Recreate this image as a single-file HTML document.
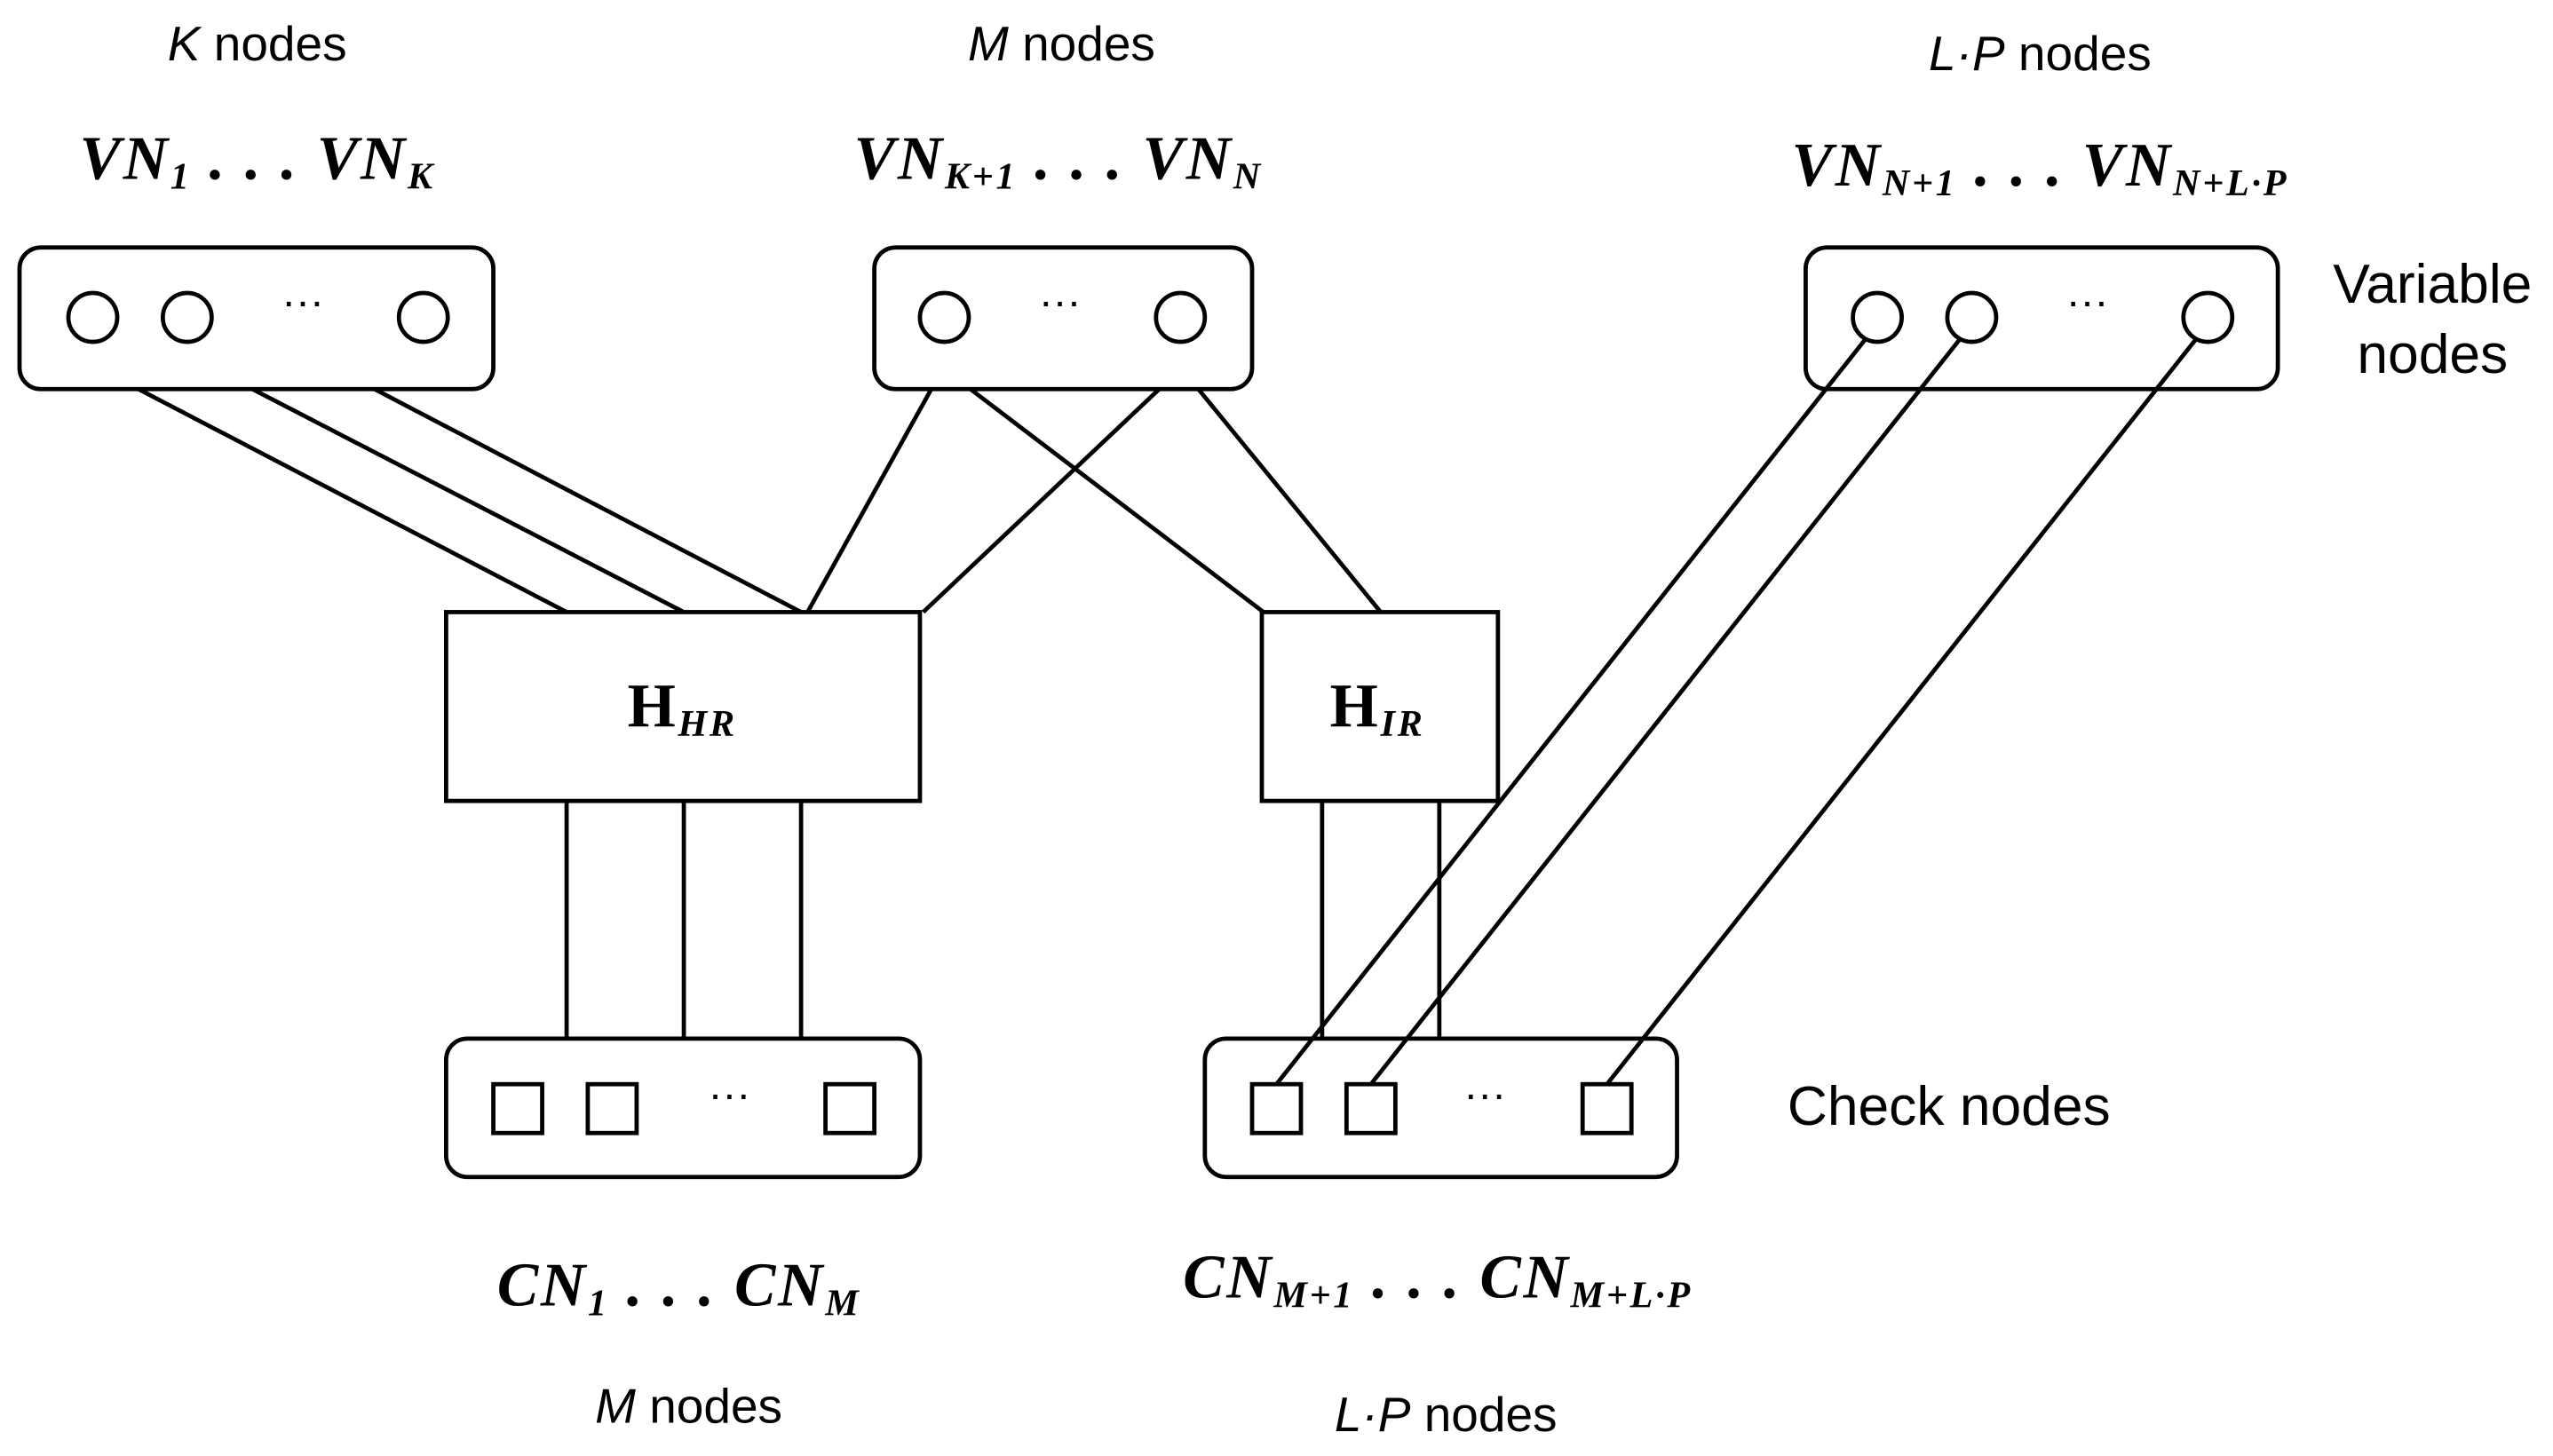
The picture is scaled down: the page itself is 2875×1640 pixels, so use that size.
<!DOCTYPE html>
<html><head><meta charset="utf-8"><style>
html,body{margin:0;padding:0;background:#fff;}
svg{display:block}
.s{font-family:"Liberation Sans",sans-serif;font-size:30px;fill:#000}
.m{font-family:"Liberation Serif",serif;font-style:italic;font-size:38px;fill:#000;font-weight:bold;letter-spacing:1.5px}
.sub{font-size:23px}
</style></head><body>
<svg width="2875" height="1640" viewBox="0 0 1568 894.4" preserveAspectRatio="none" xmlns="http://www.w3.org/2000/svg">
<g fill="none" stroke="#000" stroke-width="2.6">
<rect x="12" y="152" width="291" height="87" rx="13"/>
<rect x="537" y="152" width="232" height="87" rx="13"/>
<rect x="1109" y="152" width="290" height="87" rx="13"/>
<rect x="274" y="376" width="291" height="116"/>
<rect x="775" y="376" width="145" height="116"/>
<rect x="274" y="638" width="291" height="85" rx="13"/>
<rect x="740" y="638" width="290" height="85" rx="13"/>
<circle cx="57" cy="195" r="15"/><circle cx="115" cy="195" r="15"/><circle cx="260" cy="195" r="15"/>
<circle cx="580" cy="195" r="15"/><circle cx="725" cy="195" r="15"/>
<circle cx="1153" cy="195" r="15"/><circle cx="1211" cy="195" r="15"/><circle cx="1356" cy="195" r="15"/>
<rect x="303" y="666" width="30" height="30"/><rect x="361" y="666" width="30" height="30"/><rect x="507" y="666" width="30" height="30"/>
<rect x="769" y="666" width="30" height="30"/><rect x="827" y="666" width="30" height="30"/><rect x="972" y="666" width="30" height="30"/>
<line x1="85" y1="239" x2="348" y2="376"/>
<line x1="155" y1="239" x2="420" y2="376"/>
<line x1="230" y1="239" x2="492" y2="376"/>
<line x1="572" y1="239" x2="496" y2="376"/>
<line x1="712" y1="239" x2="567" y2="376"/>
<line x1="596" y1="239" x2="776" y2="376"/>
<line x1="736" y1="239" x2="848" y2="376"/>
<line x1="348" y1="492" x2="348" y2="638"/>
<line x1="420" y1="492" x2="420" y2="638"/>
<line x1="492" y1="492" x2="492" y2="638"/>
<line x1="812" y1="492" x2="812" y2="638"/>
<line x1="884" y1="492" x2="884" y2="638"/>
<line x1="1146" y1="208" x2="784" y2="666"/>
<line x1="1204" y1="208" x2="842" y2="666"/>
<line x1="1349" y1="208" x2="987" y2="666"/>
</g>
<g class="s" text-anchor="middle">
<text x="186" y="194" font-size="26">···</text>
<text x="651" y="194" font-size="26">···</text>
<text x="1282" y="194" font-size="26">···</text>
<text x="448" y="681" font-size="26">···</text>
<text x="912" y="681" font-size="26">···</text>
<text x="158" y="37"><tspan font-style="italic">K</tspan> nodes</text>
<text x="652" y="37"><tspan font-style="italic">M</tspan> nodes</text>
<text x="1253" y="43"><tspan font-style="italic">L·P</tspan> nodes</text>
<text x="423" y="874"><tspan font-style="italic">M</tspan> nodes</text>
<text x="888" y="879"><tspan font-style="italic">L·P</tspan> nodes</text>
<text x="1494" y="186" font-size="34">Variable</text>
<text x="1494" y="229" font-size="34">nodes</text>
<text x="1197" y="691" font-size="34">Check nodes</text>
</g>
<g class="m" text-anchor="middle">
<text x="158" y="110">VN<tspan class="sub" dy="6">1</tspan><tspan dy="-6"> . . . VN</tspan><tspan class="sub" dy="6">K</tspan></text>
<text x="650" y="110">VN<tspan class="sub" dy="6">K+1</tspan><tspan dy="-6"> . . . VN</tspan><tspan class="sub" dy="6">N</tspan></text>
<text x="1253" y="114">VN<tspan class="sub" dy="6">N+1</tspan><tspan dy="-6"> . . . VN</tspan><tspan class="sub" dy="6">N+L·P</tspan></text>
<text x="417" y="802">CN<tspan class="sub" dy="6">1</tspan><tspan dy="-6"> . . . CN</tspan><tspan class="sub" dy="6">M</tspan></text>
<text x="883" y="797">CN<tspan class="sub" dy="6">M+1</tspan><tspan dy="-6"> . . . CN</tspan><tspan class="sub" dy="6">M+L·P</tspan></text>
<text x="419" y="446" font-style="normal">H<tspan class="sub" font-style="italic" dy="6">HR</tspan></text>
<text x="846" y="446" font-style="normal">H<tspan class="sub" font-style="italic" dy="6">IR</tspan></text>
</g>
</svg>
</body></html>
